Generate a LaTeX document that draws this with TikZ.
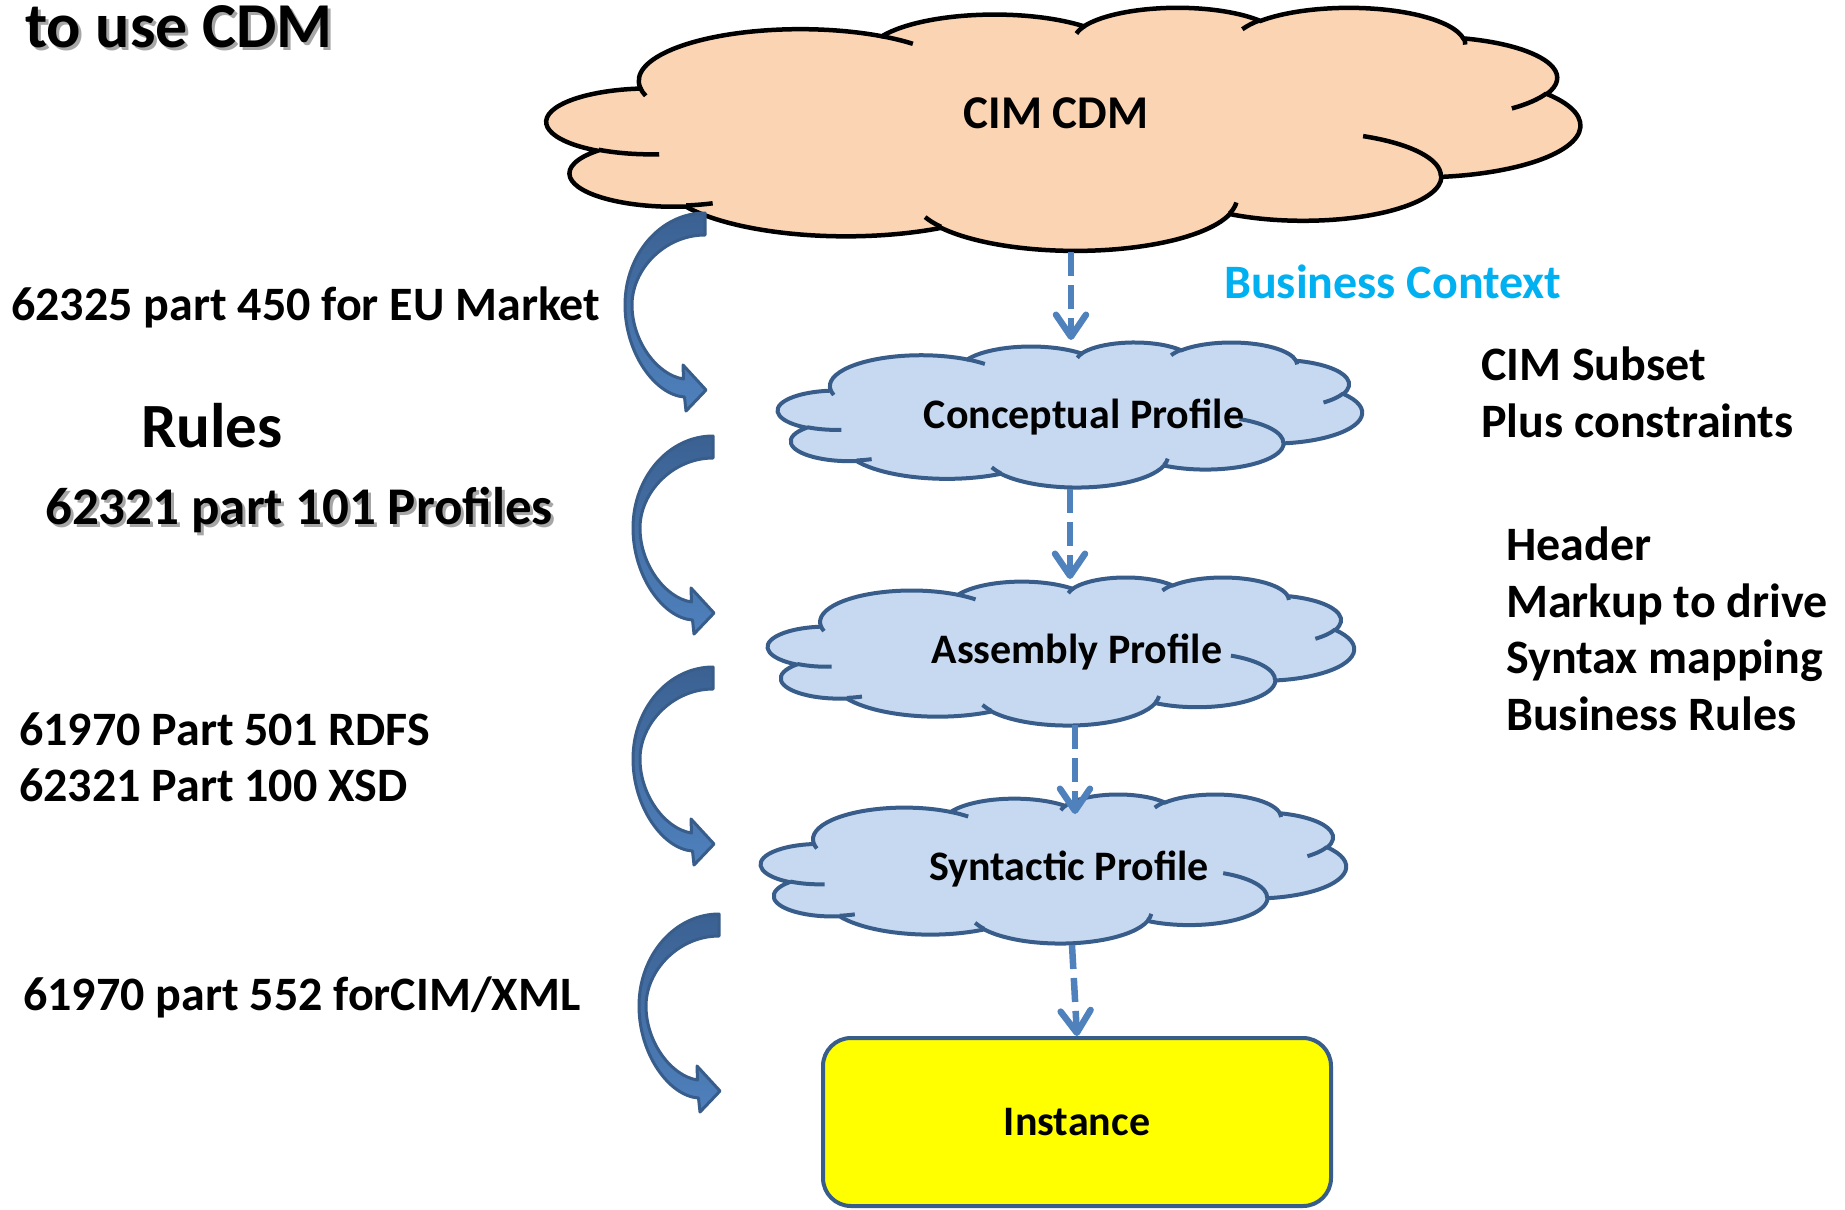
\documentclass[tikz,border=0pt]{standalone}
\usepackage{fontspec}
\setmainfont{Carlito}
\usetikzlibrary{arrows.meta}
\definecolor{peach}{HTML}{FBD4B4}
\definecolor{cloudblue}{HTML}{C6D9F1}
\definecolor{edgeblue}{HTML}{385D8A}
\definecolor{arrowblue}{HTML}{4F81BD}
\definecolor{arrowdark}{HTML}{3B6192}
\definecolor{bizcyan}{HTML}{00B0F0}
\definecolor{shadowgray}{HTML}{A6A6A6}
\definecolor{boxyellow}{HTML}{FFFF00}

% DrawingML-style arc: visual angles -> parametric angles
\newcommand\defcarc[5]{%
  \pgfmathsetmacro\rW{#2/432}%
  \pgfmathsetmacro\rH{#3/432}%
  \pgfmathsetmacro\aS{#4}%
  \pgfmathsetmacro\aE{#4+#5}%
  \pgfmathsetmacro\tS{atan2(sin(\aS)*#2/#3, cos(\aS))}%
  \pgfmathsetmacro\tS{\tS+360*round((\aS-\tS)/360)}%
  \pgfmathsetmacro\tE{atan2(sin(\aE)*#2/#3, cos(\aE))}%
  \pgfmathsetmacro\tE{\tE+360*round((\aE-\tE)/360)}%
  \edef\tmpdef{\noexpand\tikzset{#1/.style={x radius=\rW, y radius=\rH, start angle=\tS, end angle=\tE}}}%
  \tmpdef}
\defcarc{coa}{6753}{9190}{-190.48748}{123.78053}
\defcarc{cob}{5333}{7267}{-144.10238}{89.94523}
\defcarc{coc}{4365}{5945}{-145.80792}{99.72302}
\defcarc{cod}{4857}{6595}{-130.98607}{117.24173}
\defcarc{coe}{5333}{7273}{-78.70888}{109.02692}
\defcarc{cof}{6775}{9220}{-46.26725}{130.269}
\defcarc{cog}{5785}{7867}{0.62502}{114.03333}
\defcarc{coh}{6752}{9215}{22.4516}{115.17255}
\defcarc{coi}{7720}{10543}{66.24263}{75.71102}
\defcarc{coj}{4360}{5918}{-274.94208}{146.73557}
\defcarc{cok}{4345}{5945}{-246.8285}{152.51885}
\defcarc{cia}{4345}{5945}{86.742}{26.4295}
\defcarc{cib}{4360}{5918}{73.61047}{11.44747}
\defcarc{cic}{6752}{9215}{137.62415}{14.0811}
\defcarc{cid}{6752}{9215}{6.45327}{15.99835}
\defcarc{cie}{5785}{7867}{-70.29235}{70.91737}
\defcarc{cif}{5333}{7273}{30.31803}{27.7515}
\defcarc{cig}{4857}{6595}{-13.74433}{14.8589}
\defcarc{cih}{4857}{6595}{-149.18145}{18.19537}
\defcarc{cii}{4365}{5945}{-163.49427}{17.68635}
\defcarc{cij}{6753}{9190}{-66.70695}{12.31935}
\defcarc{cik}{6753}{9190}{157.65435}{11.85817}

\newcommand\cloudshape[5]{%
  \pgfmathsetmacro\cwu{#3/100}%
  \pgfmathsetmacro\chu{-#4/100}%
  \begin{scope}[shift={(#1,#2)}, x=\cwu pt, y=\chu pt]
    \filldraw[#5] (9.0278,33.2639) arc[coa] arc[cob] arc[coc] arc[cod] arc[coe]
      arc[cof] arc[cog] arc[coh] arc[coi] arc[coj] arc[cok] -- cycle;
    \draw[#5, fill=none] (10.8634,60.5949) arc[cia] (16.0370,80.7847) arc[cib]
      (38.1435,90.4861) arc[cic] (66.7292,80.4421) arc[cid]
      (79.0023,53.1343) arc[cie] (96.7546,35.5417) arc[cif]
      (88.7130,12.5602) arc[cig] (67.3102,9.1481) arc[cih]
      (51.2523,10.9259) arc[cii] (32.4074,12.0185) arc[cij]
      (9.5532,36.5486) arc[cik];
  \end{scope}}

\newcommand\curvedarrow[2]{%
  \begin{scope}[shift={(#1,#2)}]
    \filldraw[bentarrow] (0,0) .. controls (-44,0) and (-80,41) .. (-80,92)
      .. controls (-80,140) and (-50,182) .. (-20.5,184) -- (-19,198) -- (1,177)
      -- (-22,152) -- (-21.5,166) .. controls (-48,162) and (-73,128) .. (-73,92)
      .. controls (-73,56) and (-40,22) .. (0,22) -- cycle;
  \end{scope}}

\tikzset{
  cdmcloud/.style={fill=peach, draw=black, line width=4.5pt},
  profcloud/.style={fill=cloudblue, draw=edgeblue, line width=4pt},
  bentarrow/.style={draw=edgeblue, line width=3pt, line join=round, top color=arrowdark, bottom color=arrowblue},
  dasharrow/.style={draw=arrowblue, line width=6.5pt, dash pattern=on 24pt off 9pt,
    -{Straight Barb[length=22pt, width=30pt, round]}},
  lbl/.style={font=\fontsize{48}{56}\selectfont\bfseries, inner sep=0pt, anchor=base west},
  cloudtext/.style={font=\fontsize{42}{50}\selectfont\bfseries, inner sep=0pt, anchor=base},
}

\begin{document}
\begin{tikzpicture}[x=1pt, y=-1pt]
\fill[white] (0,0) rectangle (1845,1210);
\useasboundingbox (0,0) rectangle (1845,1210);

% clouds
\cloudshape{547}{7}{1033}{243}{cdmcloud}
\cloudshape{778}{342}{584}{145}{profcloud}
\cloudshape{768}{577}{586}{148}{profcloud}
\cloudshape{761}{794}{585}{149}{profcloud}

\node[cloudtext, font=\fontsize{47}{54}\selectfont\bfseries] (cdm) at (1056,128) {CIM CDM};
\node[cloudtext] (conc) at (1084,428) {Conceptual Profile};
\node[cloudtext] (asm) at (1077,663) {Assembly Profile};
\node[cloudtext] (syn) at (1069,880) {Syntactic Profile};

\node[draw=edgeblue, line width=4pt, fill=boxyellow, rounded corners=28pt,
      minimum width=508pt, minimum height=168pt,
      font=\fontsize{42}{50}\selectfont\bfseries] (inst) at (1077,1122) {Instance};

% anchor points on the clouds
\coordinate (cdmS) at (1071,252);
\coordinate (concN) at (1071,340);
\coordinate (concS) at (1070,489);
\coordinate (asmN) at (1070,579);
\coordinate (asmS) at (1075,725);
\coordinate (synN) at (1075,814);
\coordinate (synS) at (1072,945);

\draw[dasharrow] (cdmS) -- (concN);
\draw[dasharrow] (concS) -- (asmN);
\draw[dasharrow] (asmS) -- (synN);
\draw[dasharrow] (synS) -- (inst.north);

% curved block arrows
\curvedarrow{705}{213}
\curvedarrow{713}{436}
\curvedarrow{713}{667}
\curvedarrow{719}{914}

% texts
\node[lbl, font=\fontsize{64}{70}\selectfont\bfseries, text=shadowgray] at (28,50) {to use CDM};
\node[lbl, font=\fontsize{64}{70}\selectfont\bfseries] (title) at (25,47) {to use CDM};

\node[lbl] (eu) at (11,320) {62325 part 450 for EU Market};
\node[lbl, font=\fontsize{63}{70}\selectfont\bfseries] (rules) at (141,447) {Rules};
\node[lbl, font=\fontsize{53}{60}\selectfont\bfseries, text=shadowgray] at (48,527) {62321 part 101 Profiles};
\node[lbl, font=\fontsize{53}{60}\selectfont\bfseries] (p101) at (45,524) {62321 part 101 Profiles};
\node[lbl] (rdfs) at (19,745) {61970 Part 501 RDFS};
\node[lbl] (xsd) at (19,801) {62321 Part 100 XSD};
\node[lbl] (xml) at (23,1010) {61970 part 552 forCIM/XML};

\node[lbl, text=bizcyan] (biz) at (1224,298) {Business Context};
\node[lbl] (sub1) at (1481,380) {CIM Subset};
\node[lbl] (sub2) at (1481,437) {Plus constraints};
\node[lbl] (h1) at (1506,560) {Header};
\node[lbl] (h2) at (1506,617) {Markup to drive};
\node[lbl] (h3) at (1506,673) {Syntax mapping};
\node[lbl] (h4) at (1506,730) {Business Rules};
\end{tikzpicture}
\end{document}
